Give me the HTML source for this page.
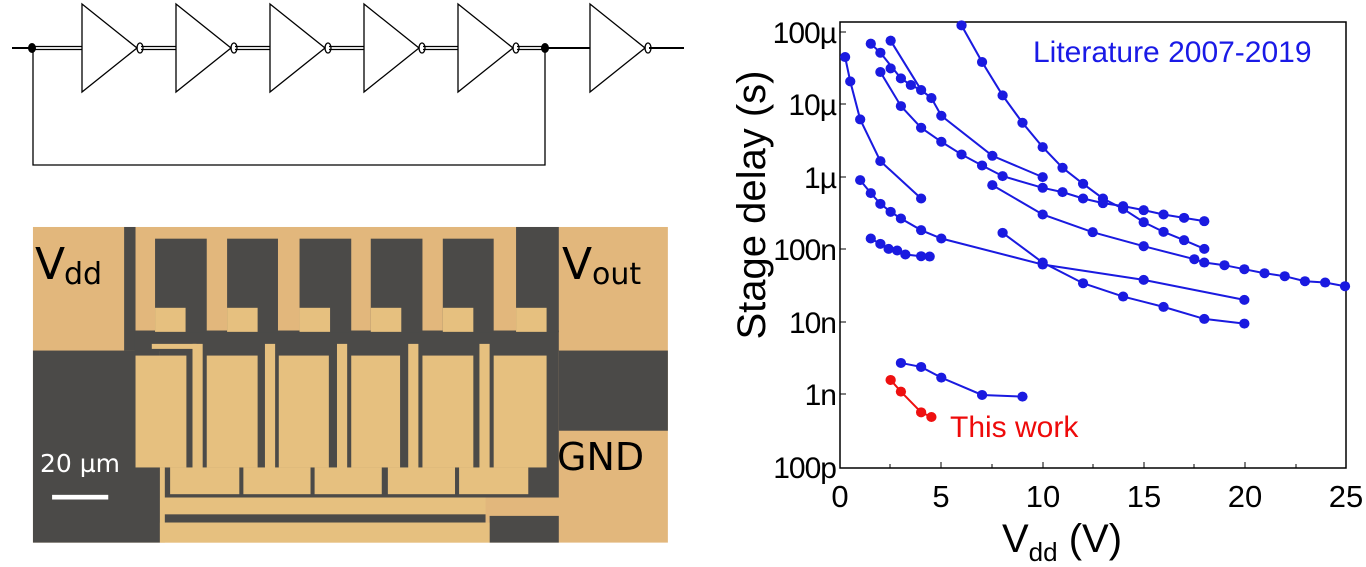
<!DOCTYPE html>
<html><head><meta charset="utf-8"><style>
html,body{margin:0;padding:0;background:#fff;}
svg{display:block;font-family:"Liberation Sans",sans-serif;}
</style></head><body>
<svg width="1366" height="567" viewBox="0 0 1366 567" xmlns="http://www.w3.org/2000/svg">
<!-- circuit -->
<g stroke="#000" fill="none" stroke-width="1.3">
<line x1="12" y1="48" x2="33" y2="48" stroke-width="2"/>
<line x1="33" y1="46.5" x2="82" y2="46.5"/><line x1="33" y1="49.5" x2="82" y2="49.5"/>
<line x1="141" y1="46.5" x2="176" y2="46.5"/><line x1="141" y1="49.5" x2="176" y2="49.5"/>
<line x1="235" y1="46.5" x2="270" y2="46.5"/><line x1="235" y1="49.5" x2="270" y2="49.5"/>
<line x1="329" y1="46.5" x2="364" y2="46.5"/><line x1="329" y1="49.5" x2="364" y2="49.5"/>
<line x1="423" y1="46.5" x2="458" y2="46.5"/><line x1="423" y1="49.5" x2="458" y2="49.5"/>
<line x1="517" y1="46.5" x2="545" y2="46.5"/><line x1="517" y1="49.5" x2="545" y2="49.5"/>
<line x1="545" y1="48" x2="590" y2="48" stroke-width="2"/>
<line x1="649" y1="48" x2="684" y2="48" stroke-width="2"/>
<polygon points="82,4 137,48 82,92"/>
<polygon points="176,4 231,48 176,92"/>
<polygon points="270,4 325,48 270,92"/>
<polygon points="364,4 419,48 364,92"/>
<polygon points="458,4 513,48 458,92"/>
<polygon points="590,4 645,48 590,92"/>
<ellipse cx="140" cy="48" rx="3" ry="5"/>
<ellipse cx="234" cy="48" rx="3" ry="5"/>
<ellipse cx="328" cy="48" rx="3" ry="5"/>
<ellipse cx="422" cy="48" rx="3" ry="5"/>
<ellipse cx="516" cy="48" rx="3" ry="5"/>
<ellipse cx="648" cy="48" rx="3" ry="5"/>
<polyline points="33,48 33,165 545,165 545,48"/>
</g>
<ellipse cx="32" cy="48" rx="4" ry="5" fill="#000"/>
<ellipse cx="545" cy="48" rx="4" ry="5" fill="#000"/>

<!-- micrograph -->
<g transform="translate(29.7,220.3) scale(0.407,0.334)">
<rect x="8" y="20" width="1560" height="945" fill="#e2b77c"/>
<g fill="#4b4a48">
<rect x="8" y="390" width="312" height="575"/>
<rect x="232" y="20" width="28" height="370"/>
<rect x="258" y="330" width="1042" height="62"/>
<rect x="308" y="55" width="127" height="280"/>
<rect x="485" y="55" width="125" height="280"/>
<rect x="663" y="55" width="127" height="280"/>
<rect x="838" y="55" width="127" height="280"/>
<rect x="1015" y="55" width="125" height="280"/>
<rect x="1195" y="20" width="105" height="315"/>
<rect x="1300" y="390" width="268" height="240"/>
<rect x="320" y="390" width="980" height="440"/>
<rect x="330" y="880" width="790" height="25"/>
<rect x="1130" y="885" width="170" height="80"/>
</g>
<g fill="#e6c07f">
<rect x="308" y="262" width="75" height="72"/>
<rect x="485" y="262" width="75" height="72"/>
<rect x="663" y="262" width="75" height="72"/>
<rect x="838" y="262" width="75" height="72"/>
<rect x="1015" y="262" width="75" height="72"/>
<rect x="1195" y="262" width="75" height="72"/>
<rect x="260" y="405" width="125" height="335"/>
<rect x="435" y="405" width="125" height="335"/>
<rect x="612" y="405" width="123" height="335"/>
<rect x="790" y="405" width="120" height="335"/>
<rect x="965" y="405" width="125" height="335"/>
<rect x="1140" y="405" width="130" height="335"/>
<rect x="300" y="370" width="110" height="15"/>
<rect x="400" y="370" width="25" height="410"/>
<rect x="400" y="770" width="100" height="15"/>
<rect x="578" y="370" width="25" height="410"/>
<rect x="578" y="770" width="100" height="15"/>
<rect x="755" y="370" width="25" height="410"/>
<rect x="755" y="770" width="100" height="15"/>
<rect x="930" y="370" width="25" height="410"/>
<rect x="930" y="770" width="100" height="15"/>
<rect x="1105" y="370" width="25" height="410"/>
<rect x="345" y="740" width="170" height="80"/>
<rect x="525" y="740" width="165" height="80"/>
<rect x="700" y="740" width="165" height="80"/>
<rect x="880" y="740" width="165" height="80"/>
<rect x="1055" y="740" width="170" height="80"/>
<rect x="320" y="740" width="12" height="225"/>
<rect x="330" y="830" width="790" height="50"/>
<rect x="320" y="905" width="810" height="60"/>
</g>
<rect x="55" y="822" width="138" height="14" fill="#fff"/>
</g>
<text x="35" y="279" font-size="44" font-family="DejaVu Sans,sans-serif">V</text>
<text x="64" y="284" font-size="30" font-family="DejaVu Sans,sans-serif">dd</text>
<text x="562" y="279" font-size="44" font-family="DejaVu Sans,sans-serif">V</text>
<text x="592" y="284" font-size="30" font-family="DejaVu Sans,sans-serif">out</text>
<text x="557" y="470" font-size="38" font-family="DejaVu Sans,sans-serif">GND</text>
<text x="40" y="472" font-size="25" fill="#fff" font-family="DejaVu Sans,sans-serif">20 µm</text>

<!-- plot frame -->
<rect x="840" y="22" width="506" height="446" fill="none" stroke="#000" stroke-width="1.5"/>
<g stroke="#000" stroke-width="1">
<line x1="840" y1="32" x2="846" y2="32"/><line x1="840" y1="104" x2="846" y2="104"/>
<line x1="840" y1="177" x2="846" y2="177"/><line x1="840" y1="249" x2="846" y2="249"/>
<line x1="840" y1="322" x2="846" y2="322"/><line x1="840" y1="394" x2="846" y2="394"/>
<line x1="941" y1="468" x2="941" y2="462"/><line x1="1043" y1="468" x2="1043" y2="462"/>
<line x1="1144" y1="468" x2="1144" y2="462"/><line x1="1245" y1="468" x2="1245" y2="462"/>
<line x1="890" y1="468" x2="890" y2="464"/><line x1="992" y1="468" x2="992" y2="464"/>
<line x1="1093" y1="468" x2="1093" y2="464"/><line x1="1194" y1="468" x2="1194" y2="464"/><line x1="1296" y1="468" x2="1296" y2="464"/>
</g>
<g font-size="30" text-anchor="end" letter-spacing="-1">
<text x="836" y="43">100µ</text><text x="836" y="115">10µ</text><text x="836" y="188">1µ</text>
<text x="836" y="260">100n</text><text x="836" y="333">10n</text><text x="836" y="405">1n</text><text x="836" y="478">100p</text>
</g>
<g font-size="31" text-anchor="middle">
<text x="840" y="507">0</text><text x="941" y="507">5</text><text x="1043" y="507">10</text>
<text x="1144" y="507">15</text><text x="1245" y="507">20</text><text x="1346" y="507">25</text>
</g>
<text x="1062" y="552" font-size="40" text-anchor="middle">V<tspan font-size="26" dy="9">dd</tspan><tspan dy="-9"> (V)</tspan></text>
<text transform="translate(765,205) rotate(-90)" font-size="40" text-anchor="middle">Stage delay (s)</text>
<text x="1033" y="62" font-size="30" fill="#1a1ae6">Literature 2007-2019</text>
<text x="950" y="437" font-size="30" fill="#ee0a0a">This work</text>

<g transform="translate(829.7,-0.68) scale(0.3424,0.3336)" fill="none" stroke="#1a1ae0" stroke-width="6">
<polyline points="385,78 445,188 505,288 563,370 622,443 680,505 740,553 798,597 857,628 917,668 975,697 1035,722 1094,748"/>
<polyline points="178,124 267,272 297,296 326,349 475,469 622,533"/>
<polyline points="120,133 148,160 208,237 237,257 267,272"/>
<polyline points="148,218 208,320 267,385 326,427 385,465 445,498 505,530 622,565 680,578 740,597 798,611 857,620 917,632 975,645 1035,655 1094,665"/>
<polyline points="475,557 622,645 768,698 917,740 1065,779 1094,789 1153,797 1211,809 1270,821 1329,830 1388,845 1447,849 1505,860"/>
<polyline points="45,173 60,246 89,360 148,485 267,597"/>
<polyline points="89,542 120,581 148,613 178,637 208,657 267,692 326,717 622,795 917,841 1211,901"/>
<polyline points="120,717 148,733 172,748 197,753 221,765 267,770 292,771"/>
<polyline points="505,700 622,789 740,851 857,891 975,922 1094,958 1211,972"/>
<polyline points="208,1090 267,1102 326,1134 445,1186 563,1191"/>
<polyline points="178,1141 208,1176 267,1238 297,1252" stroke="#ee1010"/>
</g>
<g transform="translate(829.7,-0.68) scale(0.3424,0.3336)" fill="#1a1ae0">
<circle cx="385" cy="78" r="15"/><circle cx="445" cy="188" r="15"/><circle cx="505" cy="288" r="15"/><circle cx="563" cy="370" r="15"/><circle cx="622" cy="443" r="15"/><circle cx="680" cy="505" r="15"/><circle cx="740" cy="553" r="15"/><circle cx="798" cy="597" r="15"/><circle cx="857" cy="628" r="15"/><circle cx="917" cy="668" r="15"/><circle cx="975" cy="697" r="15"/><circle cx="1035" cy="722" r="15"/><circle cx="1094" cy="748" r="15"/>
<circle cx="178" cy="124" r="15"/><circle cx="267" cy="272" r="15"/><circle cx="297" cy="296" r="15"/><circle cx="326" cy="349" r="15"/><circle cx="475" cy="469" r="15"/><circle cx="622" cy="533" r="15"/>
<circle cx="120" cy="133" r="15"/><circle cx="148" cy="160" r="15"/><circle cx="208" cy="237" r="15"/><circle cx="237" cy="257" r="15"/><circle cx="178" cy="207" r="15"/>
<circle cx="148" cy="218" r="15"/><circle cx="208" cy="320" r="15"/><circle cx="267" cy="385" r="15"/><circle cx="326" cy="427" r="15"/><circle cx="385" cy="465" r="15"/><circle cx="445" cy="498" r="15"/><circle cx="505" cy="530" r="15"/><circle cx="622" cy="565" r="15"/><circle cx="680" cy="578" r="15"/><circle cx="740" cy="597" r="15"/><circle cx="798" cy="611" r="15"/><circle cx="857" cy="620" r="15"/><circle cx="917" cy="632" r="15"/><circle cx="975" cy="645" r="15"/><circle cx="1035" cy="655" r="15"/><circle cx="1094" cy="665" r="15"/>
<circle cx="475" cy="557" r="15"/><circle cx="622" cy="645" r="15"/><circle cx="768" cy="698" r="15"/><circle cx="917" cy="740" r="15"/><circle cx="1065" cy="779" r="15"/><circle cx="1094" cy="789" r="15"/><circle cx="1153" cy="797" r="15"/><circle cx="1211" cy="809" r="15"/><circle cx="1270" cy="821" r="15"/><circle cx="1329" cy="830" r="15"/><circle cx="1388" cy="845" r="15"/><circle cx="1447" cy="849" r="15"/><circle cx="1505" cy="860" r="15"/>
<circle cx="45" cy="173" r="15"/><circle cx="60" cy="246" r="15"/><circle cx="89" cy="360" r="15"/><circle cx="148" cy="485" r="15"/><circle cx="267" cy="597" r="15"/>
<circle cx="89" cy="542" r="15"/><circle cx="120" cy="581" r="15"/><circle cx="148" cy="613" r="15"/><circle cx="178" cy="637" r="15"/><circle cx="208" cy="657" r="15"/><circle cx="267" cy="692" r="15"/><circle cx="326" cy="717" r="15"/><circle cx="622" cy="795" r="15"/><circle cx="917" cy="841" r="15"/><circle cx="1211" cy="901" r="15"/>
<circle cx="120" cy="717" r="15"/><circle cx="148" cy="733" r="15"/><circle cx="172" cy="748" r="15"/><circle cx="197" cy="753" r="15"/><circle cx="221" cy="765" r="15"/><circle cx="267" cy="770" r="15"/><circle cx="292" cy="771" r="15"/>
<circle cx="505" cy="700" r="15"/><circle cx="622" cy="789" r="15"/><circle cx="740" cy="851" r="15"/><circle cx="857" cy="891" r="15"/><circle cx="975" cy="922" r="15"/><circle cx="1094" cy="958" r="15"/><circle cx="1211" cy="972" r="15"/>
<circle cx="208" cy="1090" r="15"/><circle cx="267" cy="1102" r="15"/><circle cx="326" cy="1134" r="15"/><circle cx="445" cy="1186" r="15"/><circle cx="563" cy="1191" r="15"/>
<g fill="#ee1010"><circle cx="178" cy="1141" r="15"/><circle cx="208" cy="1176" r="15"/><circle cx="267" cy="1238" r="15"/><circle cx="297" cy="1252" r="15"/></g>
</g>
</svg>
</body></html>
